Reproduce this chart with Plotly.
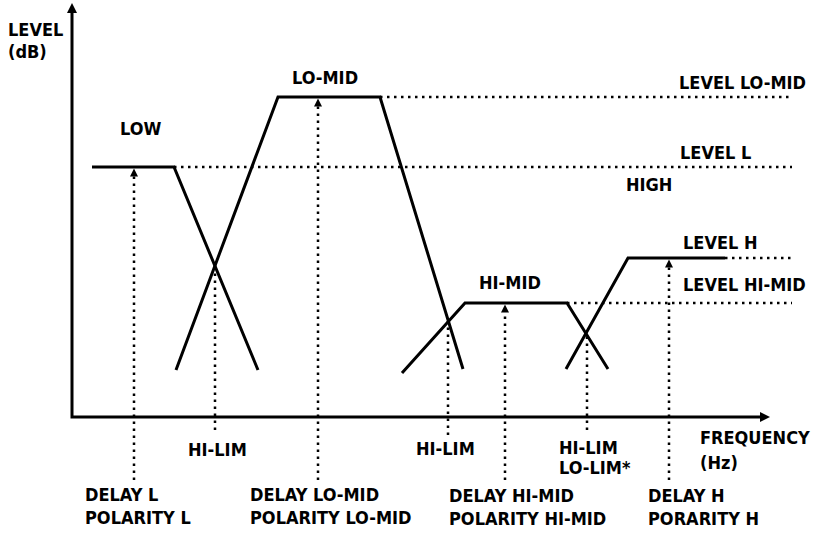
import plotly.graph_objects as go

# ---- Data (x: frequency position, y: level; schematic units) ----
LOW_X = [20, 102, 186]
LOW_Y = [250, 250, 47]
LOMID_X = [104, 206, 308, 391]
LOMID_Y = [47, 320, 320, 48]
HIMID_X = [330, 393, 495, 536]
HIMID_Y = [44, 114, 114, 48]
HIGH_X = [494, 556, 653]
HIGH_Y = [48, 159, 159]

LEVEL_VALUES = [320, 250, 159, 114]
LEVEL_START = [308, 102, 653, 495]
LEVEL_END = 720

DELAY_X = [62, 246, 433, 597]
DELAY_TOP = [250, 320, 114, 159]
DELAY_BOTTOM = -63

LIM_X = [143, 376, 515]
LIM_TOP = [152, 96, 84]
LIM_BOTTOM = [-13, -18, -13]

AXIS_X_END = 698
AXIS_Y_END = 414

LABELS = ["LOW", "LO-MID", "HI-MID", "HIGH"]
LABEL_X = [68, 253, 438, 577]
LABEL_Y = [289, 340, 135, 233]

LEVEL_LABELS = ["LEVEL LO-MID", "LEVEL L", "LEVEL H", "LEVEL HI-MID", "LEVEL", "(dB)",
                "HI-LIM", "LO-LIM*", "FREQUENCY", "(Hz)",
                "DELAY L", "POLARITY L", "DELAY LO-MID", "POLARITY LO-MID",
                "DELAY HI-MID", "POLARITY HI-MID", "DELAY H", "PORARITY H"]
LEVEL_LABEL_X = [605, 606, 609, 609, -66, -66,
                 485, 485, 626, 626,
                 11, 11, 176, 176,
                 375, 375, 574, 574]
LEVEL_LABEL_Y = [335, 265, 175, 132.5, 388, 366,
                 -30, -50, -20, -45,
                 -77, -100, -77, -100,
                 -78, -101, -78, -101]

LIM_LABELS = ["HI-LIM", "HI-LIM"]
LIM_LABEL_X = [145, 373]
LIM_LABEL_Y = [-32, -31]

FONT = dict(family="DejaVu Sans Condensed, sans-serif",
            size=18, color="black", weight="bold")
BLACK = "black"
DOT = "2.5px,4.5px"

fig = go.Figure()

# axes
fig.add_trace(go.Scatter(x=[0, 0, AXIS_X_END - 8], y=[AXIS_Y_END - 8, 0, 0], mode="lines",
                         line=dict(color=BLACK, width=3), hoverinfo="skip"))
fig.add_trace(go.Scatter(x=[0], y=[AXIS_Y_END], mode="markers",
                         marker=dict(symbol="arrow-up", size=10, color=BLACK), hoverinfo="skip"))
fig.add_trace(go.Scatter(x=[AXIS_X_END], y=[0], mode="markers",
                         marker=dict(symbol="arrow-right", size=10, color=BLACK), hoverinfo="skip"))

# level reference dotted lines
for lv, xs in zip(LEVEL_VALUES, LEVEL_START):
    fig.add_trace(go.Scatter(x=[xs, LEVEL_END], y=[lv, lv], mode="lines",
                             line=dict(color=BLACK, width=2.5, dash=DOT), hoverinfo="skip"))

# delay arrows
for x, top in zip(DELAY_X, DELAY_TOP):
    fig.add_trace(go.Scatter(x=[x, x], y=[DELAY_BOTTOM, top - 8], mode="lines",
                             line=dict(color=BLACK, width=2.5, dash=DOT), hoverinfo="skip"))
    fig.add_trace(go.Scatter(x=[x], y=[top - 1.5], mode="markers",
                             marker=dict(symbol="arrow-up", size=8, color=BLACK), hoverinfo="skip"))

# limit dotted lines
for x, top, bot in zip(LIM_X, LIM_TOP, LIM_BOTTOM):
    fig.add_trace(go.Scatter(x=[x, x], y=[bot, top], mode="lines",
                             line=dict(color=BLACK, width=2.5, dash=DOT), hoverinfo="skip"))

# bands
for bx, by in [(LOW_X, LOW_Y), (LOMID_X, LOMID_Y), (HIMID_X, HIMID_Y), (HIGH_X, HIGH_Y)]:
    fig.add_trace(go.Scatter(x=bx, y=by, mode="lines",
                             line=dict(color=BLACK, width=3), hoverinfo="skip"))

for t, x, y in zip(LABELS, LABEL_X, LABEL_Y):
    fig.add_annotation(x=x, y=y, text=t, showarrow=False, xanchor="center", yanchor="middle", font=FONT)
for t, x, y in zip(LIM_LABELS, LIM_LABEL_X, LIM_LABEL_Y):
    fig.add_annotation(x=x, y=y, text=t, showarrow=False, xanchor="center", yanchor="middle", font=FONT)
for t, x, y in zip(LEVEL_LABELS, LEVEL_LABEL_X, LEVEL_LABEL_Y):
    fig.add_annotation(x=x, y=y, text=t, showarrow=False, xanchor="left", yanchor="middle", font=FONT)

fig.update_layout(
    width=814, height=535, autosize=False,
    margin=dict(l=0, r=0, t=0, b=0),
    paper_bgcolor="white", plot_bgcolor="white",
    showlegend=False,
    xaxis=dict(range=[-72, 742], visible=False, fixedrange=True),
    yaxis=dict(range=[-118, 417], visible=False, fixedrange=True),
)

fig.write_html("out.html", config={"displayModeBar": False},
               post_script="document.body.style.margin='0';document.body.style.overflow='hidden';")
